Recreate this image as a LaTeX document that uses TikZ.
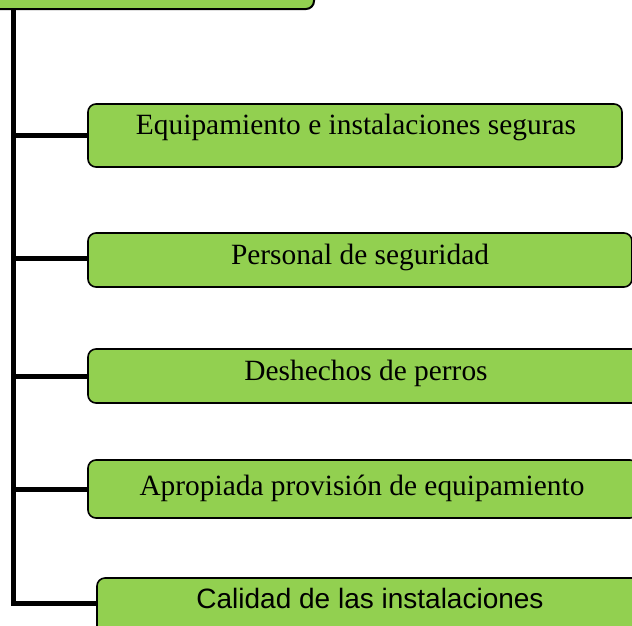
\documentclass[tikz,border=0pt]{standalone}
\usepackage{fontspec}
\setmainfont{Liberation Serif}
\newfontfamily\arialfont{Liberation Sans}
\definecolor{boxgreen}{HTML}{92D050}
\begin{document}
\begin{tikzpicture}[x=1pt,y=-1pt,
  gbox/.style={draw=black,fill=boxgreen,line width=1.6pt,rounded corners=8pt},
  conn/.style={line width=5pt,draw=black},
  lbl/.style={anchor=base,inner sep=0pt,font=\fontsize{29.4}{30}\selectfont},
  lbls/.style={anchor=base,inner sep=0pt,font=\arialfont\fontsize{28}{28}\selectfont}]
\useasboundingbox (0,0) rectangle (632,625);
\begin{scope}
\clip (0,0) rectangle (632,625);
% top box
\draw[gbox,line width=2pt] (-30,-30) rectangle (314,9);
\coordinate (topb) at (13,9);
% boxes
\draw[gbox] (88,104) rectangle (622,167);
\coordinate (b1) at (88,135.5);
\draw[gbox] (88,233) rectangle (632,287);
\coordinate (b2) at (88,260);
\draw[gbox] (88,349) rectangle (644,403);
\coordinate (b3) at (88,376);
\draw[gbox] (88,460) rectangle (638,518);
\coordinate (b4) at (88,489);
\draw[gbox] (97,578) rectangle (680,680);
\coordinate (b5) at (97,603);
% connectors
\coordinate (corner) at (13,603);
\draw[conn] (topb) -- (corner) -- (b5);
\draw[conn] (13,135.5) coordinate (j1) -- (b1);
\draw[conn] (13,258) coordinate (j2) -- (88,258);
\draw[conn] (13,376) coordinate (j3) -- (b3);
\draw[conn] (13,489) coordinate (j4) -- (b4);
% texts
\node[lbl] (t1) at (356,134) {Equipamiento e instalaciones seguras};
\node[lbl] (t2) at (360,264) {Personal de seguridad};
\node[lbl] (t3) at (366,380) {Deshechos de perros};
\node[lbl] (t4) at (362,495) {Apropiada provisión de equipamiento};
\node[lbls] (t5) at (370,608) {Calidad de las instalaciones};
\end{scope}
\end{tikzpicture}
\end{document}
